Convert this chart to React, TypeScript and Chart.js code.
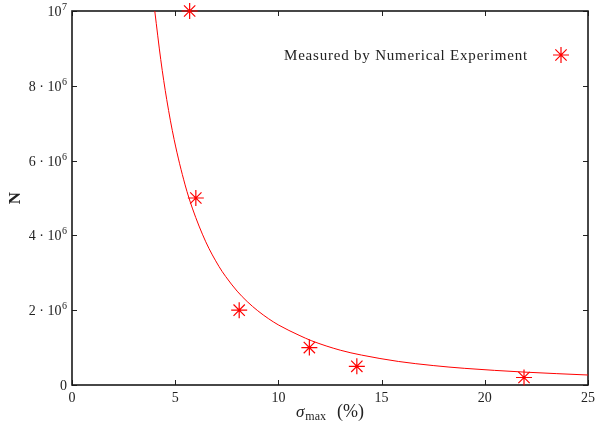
import React, { useEffect, useRef } from 'react';
import { Chart, registerables } from 'chart.js';

Chart.register(...registerables);

// Measured points (sigma_max %, N)
const measuredX = [5.7, 6.0, 8.1, 11.5, 13.8, 21.9];
const measuredN = [1.0e7, 5.0e6, 2.0e6, 1.0e6, 0.5e6, 0.2e6];

// Fitted curve
const fitX = [4.01, 4.3, 4.59, 4.95, 5.48, 5.83, 6.48, 7.12, 7.44, 8.0, 8.49, 9.0, 9.53, 10.02, 11.0, 11.62, 13.0, 14.03, 15.81, 17.5, 19.03, 21.92, 25];
const fitN = [10.0e6, 8.7e6, 7.63e6, 6.56e6, 5.35e6, 4.73e6, 3.83e6, 3.17e6, 2.905e6, 2.51e6, 2.23e6, 1.985e6, 1.77e6, 1.6e6, 1.33e6, 1.18e6, 0.93e6, 0.8e6, 0.63e6, 0.52e6, 0.445e6, 0.345e6, 0.267e6];

const xTickValues = [0, 5, 10, 15, 20, 25];
const yTickValues = [0, 2e6, 4e6, 6e6, 8e6, 1e7];
const yTickMain = ['0', '2 · 10', '4 · 10', '6 · 10', '8 · 10', '10'];
const yTickSup = ['', '6', '6', '6', '6', '7'];

const legendLabel = 'Measured by Numerical Experiment';
const FONT = "'Liberation Serif', 'Times New Roman', serif";
const RED = '#ff0000';
const INK = '#222';

function drawStar(ctx: CanvasRenderingContext2D, x: number, y: number, r: number) {
  ctx.beginPath();
  for (let i = 0; i < 4; i++) {
    const a = (i * Math.PI) / 4;
    const dx = Math.cos(a) * r;
    const dy = Math.sin(a) * r;
    ctx.moveTo(x - dx, y - dy);
    ctx.lineTo(x + dx, y + dy);
  }
  ctx.stroke();
}

const framePlugin = {
  id: 'frameTicks',
  beforeDatasetsDraw(chart: any) {
    const { ctx, chartArea: a, scales } = chart;
    ctx.save();
    ctx.strokeStyle = INK;
    ctx.lineWidth = 1;
    ctx.beginPath();
    xTickValues.forEach((v) => {
      const px = Math.round(scales.x.getPixelForValue(v)) + 0.5;
      ctx.moveTo(px, a.bottom);
      ctx.lineTo(px, a.bottom - 5);
      ctx.moveTo(px, a.top);
      ctx.lineTo(px, a.top + 5);
    });
    yTickValues.forEach((v) => {
      const py = Math.round(scales.y.getPixelForValue(v)) + 0.5;
      ctx.moveTo(a.left, py);
      ctx.lineTo(a.left + 5, py);
      ctx.moveTo(a.right, py);
      ctx.lineTo(a.right - 5, py);
    });
    ctx.stroke();
    ctx.lineWidth = 1.6;
    ctx.strokeStyle = '#1a1a1a';
    ctx.strokeRect(a.left, a.top, a.right - a.left, a.bottom - a.top);

    // y tick labels with real superscripts
    ctx.fillStyle = INK;
    ctx.textBaseline = 'alphabetic';
    ctx.textAlign = 'left';
    yTickValues.forEach((v, i) => {
      const py = scales.y.getPixelForValue(v);
      ctx.font = `14px ${FONT}`;
      const wMain = ctx.measureText(yTickMain[i]).width;
      ctx.font = `10px ${FONT}`;
      const wSup = yTickSup[i] ? ctx.measureText(yTickSup[i]).width + 0.5 : 0;
      const right = a.left - 5;
      const x0 = right - wSup - wMain;
      ctx.font = `14px ${FONT}`;
      ctx.fillText(yTickMain[i], x0, py + 5);
      if (yTickSup[i]) {
        ctx.font = `10px ${FONT}`;
        ctx.fillText(yTickSup[i], x0 + wMain + 0.5, py - 1);
      }
    });
    ctx.restore();
  },
  afterDraw(chart: any) {
    const { ctx, chartArea: a } = chart;
    ctx.save();
    // legend
    ctx.fillStyle = INK;
    ctx.font = `15px ${FONT}`;
    ctx.textAlign = 'right';
    ctx.textBaseline = 'middle';
    const w = ctx.measureText(legendLabel).width;
    const target = 244;
    (ctx as any).letterSpacing = `${Math.max(0, (target - w) / legendLabel.length)}px`;
    ctx.fillText(legendLabel, 528, 56);
    (ctx as any).letterSpacing = '0px';
    ctx.strokeStyle = RED;
    ctx.lineWidth = 1.2;
    drawStar(ctx, 561, 55, 8);

    // x-axis title: sigma_max (%)
    const cx = (a.left + a.right) / 2;
    const baseY = 417;
    ctx.textAlign = 'left';
    ctx.textBaseline = 'alphabetic';
    ctx.fillStyle = INK;
    ctx.font = `italic 17px ${FONT}`;
    const wS = ctx.measureText('σ').width;
    ctx.font = `12px ${FONT}`;
    const wM = ctx.measureText('max').width;
    ctx.font = `18px ${FONT}`;
    const wP = ctx.measureText('(%)').width;
    const gap1 = 1;
    const gap2 = 11;
    const total = wS + gap1 + wM + gap2 + wP;
    let x0 = cx - total / 2;
    ctx.font = `italic 17px ${FONT}`;
    ctx.fillText('σ', x0, baseY);
    x0 += wS + gap1;
    ctx.font = `12px ${FONT}`;
    ctx.fillText('max', x0, baseY + 3);
    x0 += wM + gap2;
    ctx.font = `18px ${FONT}`;
    ctx.fillText('(%)', x0, baseY);
    ctx.restore();
  },
};

export default function App() {
  const ref = useRef<HTMLCanvasElement | null>(null);

  useEffect(() => {
    document.body.style.margin = '0';
    if (!ref.current) return;
    const chart = new Chart(ref.current, {
      type: 'scatter',
      data: {
        datasets: [
          {
            label: 'fit',
            type: 'line',
            data: fitX.map((x, i) => ({ x, y: fitN[i] })),
            borderColor: RED,
            borderWidth: 1,
            pointRadius: 0,
            fill: false,
            cubicInterpolationMode: 'monotone',
            showLine: true,
          } as any,
          {
            label: legendLabel,
            data: measuredX.map((x, i) => ({ x, y: measuredN[i] })),
            pointStyle: 'star',
            pointRadius: 8,
            pointBorderWidth: 1.2,
            borderColor: RED,
            backgroundColor: RED,
            showLine: false,
            clip: false,
          } as any,
        ],
      },
      options: {
        animation: false,
        responsive: false,
        layout: { padding: { top: 11, right: 9, left: 0, bottom: 0 } },
        plugins: {
          legend: { display: false },
          tooltip: { enabled: false },
        },
        scales: {
          x: {
            type: 'linear',
            min: 0,
            max: 25,
            grid: { display: false, drawTicks: false },
            border: { display: false },
            afterFit: (s: any) => {
              s.height = 42;
            },
            afterBuildTicks: (s: any) => {
              s.ticks = xTickValues.map((v) => ({ value: v }));
            },
            ticks: {
              padding: 5,
              color: INK,
              font: { family: FONT, size: 14 },
              maxRotation: 0,
              autoSkip: false,
              callback: (v: any) => String(v),
            },
          },
          y: {
            type: 'linear',
            min: 0,
            max: 1e7,
            grid: { display: false, drawTicks: false },
            border: { display: false },
            afterFit: (s: any) => {
              s.width = 72;
            },
            afterBuildTicks: (s: any) => {
              s.ticks = yTickValues.map((v) => ({ value: v }));
            },
            title: {
              display: true,
              text: 'N',
              color: INK,
              font: { family: FONT, size: 17, weight: 'bold' },
              padding: { top: 5, bottom: 0 },
            },
            ticks: {
              display: false,
            },
          },
        },
      } as any,
      plugins: [framePlugin],
    });
    return () => chart.destroy();
  }, []);

  return (
    <div style={{ width: 600, height: 427 }}>
      <canvas ref={ref} width={600} height={427} />
    </div>
  );
}
